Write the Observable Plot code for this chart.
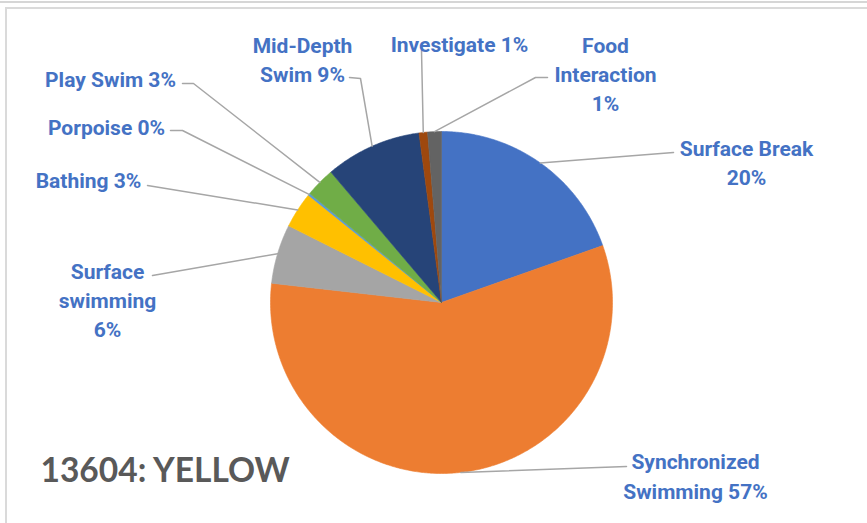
<!DOCTYPE html>
<html>
<head>
<meta charset="utf-8">
<script src="https://cdn.jsdelivr.net/npm/d3@7"></script>
<script src="https://cdn.jsdelivr.net/npm/@observablehq/plot@0.6"></script>
<style>
  html, body { margin: 0; padding: 0; background: #fff; }
  #wrap { position: relative; width: 867px; height: 523px; overflow: hidden; }
  .rule-top { position: absolute; left: 0; right: 0; top: 1px; height: 2px; background: #d6d6d6; }
  .frame { position: absolute; left: 5px; top: 7px; right: -4px; bottom: -4px;
           border-top: 2px solid #dadada; border-left: 2px solid #dadada; }
  #chart { position: absolute; left: 0; top: 0; }
</style>
</head>
<body>
<div id="wrap">
  <div class="rule-top"></div>
  <div class="frame"></div>
  <div id="chart"></div>
</div>
<script>
// Behaviour shares (percent of observed time), clockwise from 12 o'clock
const categories = [
  "Surface Break", "Synchronized Swimming", "Surface swimming", "Bathing",
  "Porpoise", "Play Swim", "Mid-Depth Swim", "Investigate", "Food Interaction"
];
const shares = [19.6, 57.2, 5.6, 3.4, 0.2, 2.8, 9.1, 0.8, 1.3];
const sliceColors = [
  "#4472C4", "#ED7D31", "#A5A5A5", "#FFC000",
  "#5B9BD5", "#70AD47", "#264478", "#9E480E", "#636363"
];
const chartTitle = "13604: YELLOW";

// Pie geometry (in the plot's pixel-like coordinate space)
const W = 867, H = 523;
const cx = 441, cy = 302, R = 171;

// Label placement: text block centre, line breaks, and leader-line bend points
const labelLayout = {
  "Surface Break":         {x: 746, y: 160.5, lines: ["Surface Break", "%"],        leader: [[673, 152]]},
  "Synchronized Swimming": {x: 695, y: 474,   lines: ["Synchronized", "Swimming %"], leader: [[626, 466]]},
  "Surface swimming":      {x: 107, y: 298,   lines: ["Surface", "swimming", "%"],  leader: [[152, 275]]},
  "Bathing":               {x: 88,  y: 178,   lines: ["Bathing %"],                 leader: [[147, 185]]},
  "Porpoise":              {x: 106, y: 125,   lines: ["Porpoise %"],                leader: [[170, 130], [182, 130]]},
  "Play Swim":             {x: 110, y: 77,    lines: ["Play Swim %"],               leader: [[182, 83], [193, 83]]},
  "Mid-Depth Swim":        {x: 302, y: 57.5,  lines: ["Mid-Depth", "Swim %"],       leader: [[349, 77], [360, 78]]},
  "Investigate":           {x: 459, y: 42,    lines: ["Investigate %"],             leader: [[421, 50]]},
  "Food Interaction":      {x: 605, y: 72,    lines: ["Food", "Interaction", "%"],  leader: [[547, 77], [535, 77]]}
};

const data = categories.map((name, i) => ({name, value: shares[i]}));
const arcs = d3.pie().sort(null).value(d => d.value)(data);

const polar = (a, r) => [cx + r * Math.sin(a), cy - r * Math.cos(a)];

// Slice outlines as closed polygons
const slicePts = [];
for (const a of arcs) {
  const n = Math.max(2, Math.ceil((a.endAngle - a.startAngle) / (Math.PI / 360)));
  slicePts.push({name: a.data.name, x: cx, y: cy});
  for (let k = 0; k <= n; k++) {
    const t = a.startAngle + (a.endAngle - a.startAngle) * k / n;
    const [x, y] = polar(t, R);
    slicePts.push({name: a.data.name, x, y});
  }
  slicePts.push({name: a.data.name, x: cx, y: cy});
}

// Leader lines: label-side points, then the arc at the slice's mid-angle
const leaderPts = [];
const labels = [];
for (const a of arcs) {
  const lay = labelLayout[a.data.name];
  const pct = Math.round(a.data.value) + "%";
  for (const [x, y] of lay.leader) leaderPts.push({name: a.data.name, x, y});
  const [ex, ey] = polar((a.startAngle + a.endAngle) / 2, R);
  leaderPts.push({name: a.data.name, x: ex, y: ey});
  labels.push({x: lay.x, y: lay.y, text: lay.lines.map(l => l.replace("%", pct)).join("\n")});
}

const chart = Plot.plot({
  width: W,
  height: H,
  margin: 0,
  x: {domain: [0, W], range: [0, W], axis: null},
  y: {domain: [0, H], range: [0, H], axis: null},
  color: {domain: categories, range: sliceColors},
  style: {background: "transparent", overflow: "visible"},
  marks: [
    Plot.line(slicePts, {x: "x", y: "y", z: "name", fill: "name", stroke: "name", strokeWidth: 0.6, curve: "linear"}),
    Plot.line(leaderPts, {x: "x", y: "y", z: "name", stroke: "#A6A6A6", strokeWidth: 1.5}),
    Plot.text(labels, {
      x: "x", y: "y", text: "text",
      fontFamily: "Roboto", fontWeight: "bold", fontSize: 21, lineHeight: 1.4,
      fill: "#4472C4", textAnchor: "middle", lineAnchor: "middle"
    }),
    Plot.text([chartTitle], {
      x: () => 40, y: () => 471, text: d => d,
      fontFamily: "Lato", fontWeight: "bold", fontSize: 33.5,
      fill: "#595959", textAnchor: "start", lineAnchor: "middle"
    })
  ]
});

document.getElementById("chart").appendChild(chart);
</script>
</body>
</html>
